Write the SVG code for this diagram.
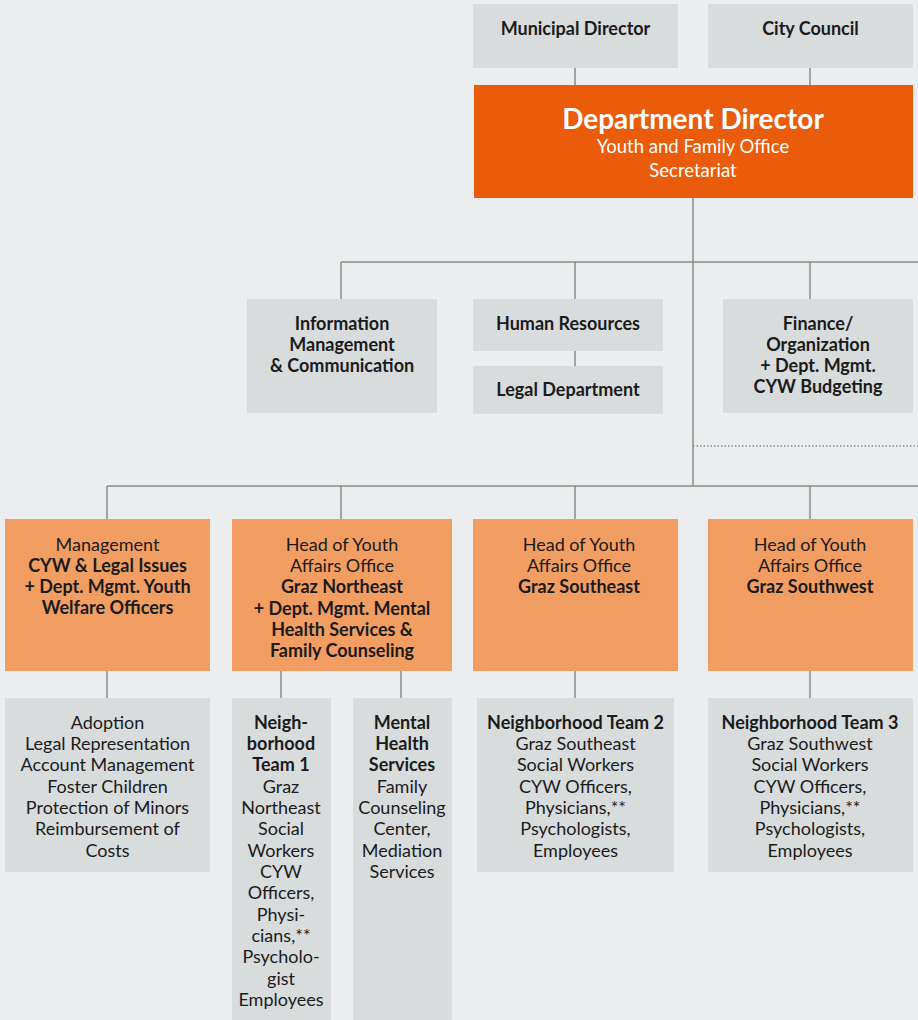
<svg xmlns="http://www.w3.org/2000/svg" width="918" height="1020" viewBox="0 0 918 1020">
<style>
text{font-family:Lato,"Noto Sans",sans-serif;font-size:18px;fill:#1b1b1b;text-anchor:middle;transform:translateY(1px)}
.b{font-weight:bold}
.g{fill:#d9dcdd}
.o{fill:#f29e63}
.w{fill:#ffffff}
.c line{stroke:#8a8a8a;stroke-width:1.5;fill:none}
</style>
<rect width="918" height="1020" fill="#ecedef"/>
<g class="c" id="connectors">
<line x1="575" y1="68" x2="575" y2="85"/>
<line x1="810" y1="68" x2="810" y2="85"/>
<line x1="693" y1="198" x2="693" y2="486"/>
<line x1="341" y1="262" x2="918" y2="262"/>
<line x1="341" y1="262" x2="341" y2="299"/>
<line x1="575" y1="262" x2="575" y2="299"/>
<line x1="810" y1="262" x2="810" y2="299"/>
<line x1="575" y1="351" x2="575" y2="366"/>
<line x1="693" y1="446" x2="918" y2="446" stroke-dasharray="1.5 2"/>
<line x1="107" y1="486" x2="918" y2="486"/>
<line x1="107" y1="486" x2="107" y2="519"/>
<line x1="341" y1="486" x2="341" y2="519"/>
<line x1="575" y1="486" x2="575" y2="519"/>
<line x1="810" y1="486" x2="810" y2="519"/>
<line x1="107" y1="671" x2="107" y2="698"/>
<line x1="281" y1="671" x2="281" y2="698"/>
<line x1="401" y1="671" x2="401" y2="698"/>
<line x1="575" y1="671" x2="575" y2="698"/>
<line x1="810" y1="671" x2="810" y2="698"/>
</g>
<g id="municipal-director"><rect class="g" x="473" y="4" width="205" height="64"/><text class="b" x="575.5" y="34">Municipal Director</text></g>
<g id="city-council"><rect class="g" x="708" y="4" width="205" height="64"/><text class="b" x="810.5" y="34">City Council</text></g>
<g id="department-director"><rect fill="#ea5b0c" x="474" y="85" width="439" height="113"/>
<text class="b w" x="693" y="128" style="font-size:28px">Department Director</text>
<text class="w" x="693" y="152" style="font-size:18.5px">Youth and Family Office</text>
<text class="w" x="693" y="176" style="font-size:18.5px">Secretariat</text></g>
<g id="info-mgmt"><rect class="g" x="247" y="299" width="190" height="114"/>
<text class="b" x="342" y="329">Information</text><text class="b" x="342" y="350">Management</text><text class="b" x="342" y="371">&amp; Communication</text></g>
<g id="human-resources"><rect class="g" x="473" y="299" width="190" height="52"/><text class="b" x="568" y="329">Human Resources</text></g>
<g id="legal-department"><rect class="g" x="473" y="366" width="190" height="48"/><text class="b" x="568" y="395">Legal Department</text></g>
<g id="finance"><rect class="g" x="723" y="299" width="190" height="114"/>
<text class="b" x="818" y="329">Finance/</text><text class="b" x="818" y="350">Organization</text><text class="b" x="818" y="371">+ Dept. Mgmt.</text><text class="b" x="818" y="392">CYW Budgeting</text></g>
<g id="management"><rect class="o" x="5" y="519" width="205" height="152"/>
<text x="107.5" y="550">Management</text><text class="b" x="107.5" y="571">CYW &amp; Legal Issues</text><text class="b" x="107.5" y="592">+ Dept. Mgmt. Youth</text><text class="b" x="107.5" y="613">Welfare Officers</text></g>
<g id="head-northeast"><rect class="o" x="232" y="519" width="220" height="152"/>
<text x="342" y="550">Head of Youth</text><text x="342" y="571">Affairs Office</text><text class="b" x="342" y="592">Graz Northeast</text><text class="b" x="342" y="614">+ Dept. Mgmt. Mental</text><text class="b" x="342" y="635">Health Services &amp;</text><text class="b" x="342" y="656">Family Counseling</text></g>
<g id="head-southeast"><rect class="o" x="473" y="519" width="205" height="152"/>
<text x="579" y="550">Head of Youth</text><text x="579" y="571">Affairs Office</text><text class="b" x="579" y="592">Graz Southeast</text></g>
<g id="head-southwest"><rect class="o" x="708" y="519" width="205" height="152"/>
<text x="810" y="550">Head of Youth</text><text x="810" y="571">Affairs Office</text><text class="b" x="810" y="592">Graz Southwest</text></g>
<g id="adoption"><rect class="g" x="5" y="698" width="205" height="174"/>
<text x="107.5" y="728">Adoption</text><text x="107.5" y="749">Legal Representation</text><text x="107.5" y="770">Account Management</text><text x="107.5" y="792">Foster Children</text><text x="107.5" y="813">Protection of Minors</text><text x="107.5" y="834">Reimbursement of</text><text x="107.5" y="856">Costs</text></g>
<g id="team1"><rect class="g" x="232" y="698" width="99" height="322"/>
<text class="b" x="281" y="728">Neigh-</text><text class="b" x="281" y="749">borhood</text><text class="b" x="281" y="770">Team 1</text>
<text x="281" y="792">Graz</text><text x="281" y="813">Northeast</text><text x="281" y="834">Social</text><text x="281" y="856">Workers</text><text x="281" y="877">CYW</text><text x="281" y="898">Officers,</text><text x="281" y="920">Physi-</text><text x="281" y="941">cians,**</text><text x="281" y="962">Psycholo-</text><text x="281" y="984">gist</text><text x="281" y="1005">Employees</text></g>
<g id="mental-health"><rect class="g" x="353" y="698" width="99" height="322"/>
<text class="b" x="402" y="728">Mental</text><text class="b" x="402" y="749">Health</text><text class="b" x="402" y="770">Services</text>
<text x="402" y="792">Family</text><text x="402" y="813">Counseling</text><text x="402" y="834">Center,</text><text x="402" y="856">Mediation</text><text x="402" y="877">Services</text></g>
<g id="team2"><rect class="g" x="477" y="698" width="197" height="174"/>
<text class="b" x="575.5" y="728">Neighborhood Team 2</text><text x="575.5" y="749">Graz Southeast</text><text x="575.5" y="770">Social Workers</text><text x="575.5" y="792">CYW Officers,</text><text x="575.5" y="813">Physicians,**</text><text x="575.5" y="834">Psychologists,</text><text x="575.5" y="856">Employees</text></g>
<g id="team3"><rect class="g" x="708" y="698" width="205" height="174"/>
<text class="b" x="810" y="728">Neighborhood Team 3</text><text x="810" y="749">Graz Southwest</text><text x="810" y="770">Social Workers</text><text x="810" y="792">CYW Officers,</text><text x="810" y="813">Physicians,**</text><text x="810" y="834">Psychologists,</text><text x="810" y="856">Employees</text></g>
</svg>
